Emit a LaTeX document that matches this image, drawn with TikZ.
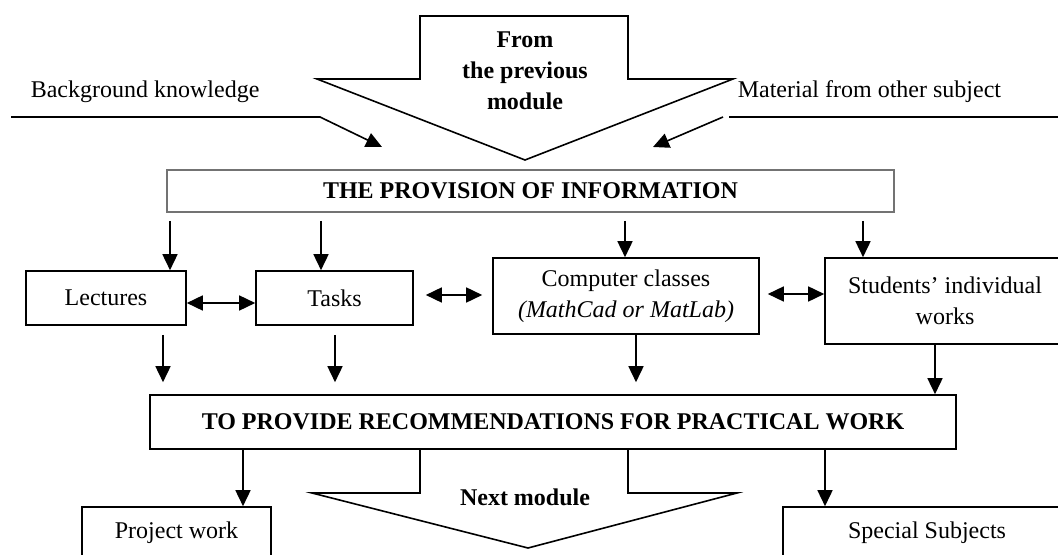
\documentclass[tikz,border=0pt]{standalone}
\usepackage{fontspec}
\setmainfont{Liberation Serif}
\usetikzlibrary{arrows.meta,calc}

\newcommand{\dgfont}{\fontsize{12}{15.5}\selectfont}

\begin{document}
\begin{tikzpicture}[
    x=0.5pt, y=-0.5pt, % 1 unit = 1 pixel of the sketch, y grows downwards
    line width=0.8pt,
    >={Triangle[length=8pt,width=7.5pt]},
    % Box style: framed step of the course
    box/.style={draw,align=center,inner sep=2pt,font=\dgfont},
    % Heading boxes: bold capitals
    hbox/.style={box,font=\dgfont\bfseries},
    % Free text
    txt/.style={align=center,inner sep=0pt,font=\dgfont},
    htxt/.style={txt,font=\dgfont\bfseries}
]
\useasboundingbox (0,0) rectangle (1058,555);
\clip (0,0) rectangle (1058,555);

% ==============================
% INPUTS
% ==============================
% big arrow from the previous module
\draw (420,16) -- (628,16) -- (628,79) -- (733,79) -- (525,160) -- (317,79) -- (420,79) -- cycle;
\node[htxt] (prev) at (525,71) {From\\the previous\\module};

\node[txt,anchor=west] (bg)  at (30,92)  {Background knowledge};
\node[txt,anchor=west] (mat) at (737,92) {Material from other subject};

\coordinate (bgl) at (11,117);
\coordinate (bgk) at (320,117);
\coordinate (bgt) at (382,147);
\draw[->] (bgl) -- (bgk) -- (bgt);

\coordinate (mtl) at (729,117);
\coordinate (mtr) at (1058,117);
\coordinate (mtk) at (723,117);
\coordinate (mtt) at (653,147);
\draw (mtl) -- (mtr);
\draw[->] (mtk) -- (mtt);

% ==============================
% PROVISION OF INFORMATION
% ==============================
\node[hbox,draw=black!55,minimum width=363.5pt,minimum height=21pt] (info) at (530.5,191) {THE PROVISION OF INFORMATION};

\node[box,minimum width=80pt,minimum height=27pt]   (lect) at (106,298)   {Lectures};
\node[box,minimum width=78.5pt,minimum height=27pt] (task) at (334.5,298) {Tasks};
\node[box,minimum width=133pt,minimum height=38pt]  (comp) at (626,296)   {Computer classes\\\textit{(MathCad or MatLab)}};
\node[box,minimum width=120pt,minimum height=43pt]  (stud) at (945,301)   {Students' individual\\works};

% arrows down from the information box
\coordinate (i1) at (170,221);
\coordinate (i2) at (321,221);
\coordinate (i3) at (625,221);
\coordinate (i4) at (863,221);
\draw[->] (i1) -- (i1 |- lect.north);
\draw[->] (i2) -- (i2 |- task.north);
\draw[->] (i3) -- (i3 |- comp.north);
\draw[->] (i4) -- (i4 |- stud.north);

% links between the forms of work
\draw[<->] ([yshift=-2.5pt]lect.east) -- ([yshift=-2.5pt]task.west);
\draw[<->] ($(task.east)+(12,-3)$) -- ($(comp.west)+(-10,-1)$);
\coordinate (cs) at ($(comp.east)+(8,-2)$);
\draw[<->] (cs) -- (cs -| stud.west);

% ==============================
% RECOMMENDATIONS
% ==============================
\node[hbox,minimum width=403pt,minimum height=27pt] (rec) at (553,422) {TO PROVIDE RECOMMENDATIONS FOR PRACTICAL WORK};

\draw[->] ($(lect.south)+(57,9)$) -- ($(rec.north -| lect.south)+(57,-12)$);
\draw[->] ($(task.south)+(0.5,9)$) -- ($(rec.north -| task.south)+(0.5,-12)$);
\draw[->] ($(comp.south)+(10,0)$) -- ($(rec.north -| comp.south)+(10,-12)$);
\draw[->] ($(stud.south)+(-10,0)$) -- ($(rec.north -| stud.south)+(-10,0)$);

% ==============================
% OUTPUTS
% ==============================
\draw (rec.south -| 420,0) -- (420,493) -- (312,493) -- (528,548) -- (737,493) -- (628,493) -- (rec.south -| 628,0);
\node[htxt] (next) at (525,497) {Next module};

\node[box,minimum width=94.5pt,minimum height=26pt] (proj) at (176.5,533) {Project work};
\node[box,minimum width=144pt,minimum height=26pt]  (spec) at (927,533)   {Special Subjects};

\coordinate (pj) at ($(proj.north)+(66.5,0)$);
\coordinate (sp) at ($(spec.north)+(-102,0)$);
\draw[->] (rec.south -| pj) -- (pj);
\draw[->] (rec.south -| sp) -- (sp);
\end{tikzpicture}
\end{document}
